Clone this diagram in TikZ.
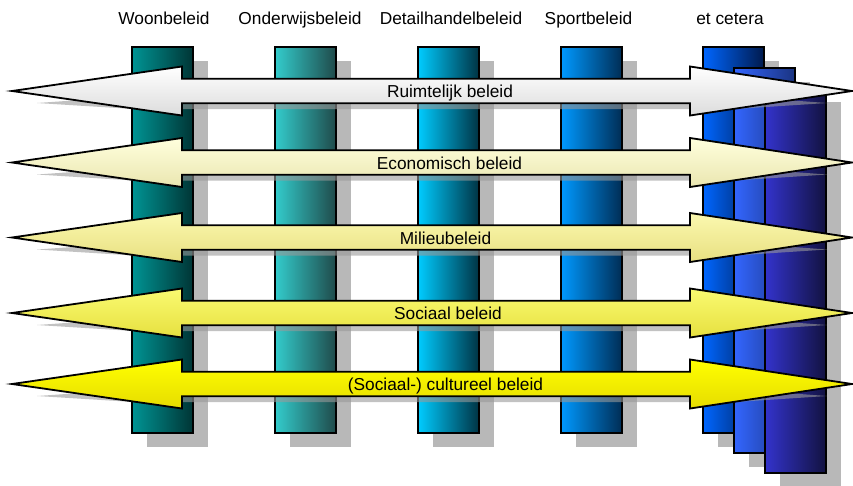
\documentclass[tikz,border=0pt]{standalone}
\usepackage{fontspec}
\setmainfont{Liberation Sans}
% column gradients (left / right)
\definecolor{c1l}{HTML}{009494}\definecolor{c1r}{HTML}{003535}
\definecolor{c2l}{HTML}{33CCCC}\definecolor{c2r}{HTML}{1F4A4A}
\definecolor{c3l}{HTML}{00CCFF}\definecolor{c3r}{HTML}{003344}
\definecolor{c4l}{HTML}{0099FF}\definecolor{c4r}{HTML}{002D55}
\definecolor{s1l}{HTML}{0066FF}\definecolor{s1r}{HTML}{001A4D}
\definecolor{s2l}{HTML}{3366FF}\definecolor{s2r}{HTML}{1A3380}
\definecolor{s3l}{HTML}{3333CC}\definecolor{s3r}{HTML}{121240}
% arrow gradients (top / bottom)
\definecolor{a1t}{HTML}{FFFFFF}\definecolor{a1b}{HTML}{DCDCDC}
\definecolor{a2t}{HTML}{FFFFDD}\definecolor{a2b}{HTML}{EAE6B0}
\definecolor{a3t}{HTML}{FBF8B0}\definecolor{a3b}{HTML}{E8E080}
\definecolor{a4t}{HTML}{FAFA70}\definecolor{a4b}{HTML}{E6E040}
\definecolor{a5t}{HTML}{FFFF00}\definecolor{a5b}{HTML}{E6DC00}
\begin{document}
\begin{tikzpicture}[x=1pt,y=-1pt,
  colbox/.style={draw=black, line width=1.6pt},
  colshadow/.style={fill=black!28},
  arrbody/.style={draw=black, line width=1.8pt, line join=miter},
  arrshadow/.style={fill=black!40, fill opacity=0.6},
  toplab/.style={anchor=base, inner sep=0pt, font=\fontsize{17.3}{20}\selectfont},
  arrlab/.style={anchor=base, inner sep=0pt, font=\fontsize{17.3}{20}\selectfont}]
\useasboundingbox (0,0) rectangle (853,485);

% policy columns with their drop shadows
\foreach \x/\yt/\yb/\lc/\rc in {132/47/433/c1l/c1r, 275/47/433/c2l/c2r,
    418/47/433/c3l/c3r, 561/47/433/c4l/c4r, 703/47/433/s1l/s1r,
    734/68/453/s2l/s2r, 765/88/473/s3l/s3r}{
  \fill[colshadow] (\x+15,\yt+14) rectangle (\x+76,\yb+14);
  \path[colbox, left color=\lc, right color=\rc] (\x,\yt) rectangle (\x+61,\yb);
}

% headings above the columns
\node[toplab] (hwoon)  at (164,24) {Woonbeleid};
\node[toplab] (honder) at (300,24) {Onderwijsbeleid};
\node[toplab] (hdetl)  at (451,24) {Detailhandelbeleid};
\node[toplab] (hsport) at (588.5,24) {Sportbeleid};
\node[toplab] (hetc)   at (730,24) {et cetera};

% flattened shadows of the cross-cutting arrows
\foreach \c in {91,162.5,237.5,313,384}{
  \fill[arrshadow] (37,\c+12) -- (182,\c+2) -- (690,\c+2) -- (827,\c+12)
    -- (690,\c+21) -- (690,\c+18) -- (182,\c+18) -- (182,\c+21) -- cycle;
}

% double-headed arrows for the cross-cutting policies
\foreach \c/\tc/\bc/\lx/\txt [count=\i] in {
    91/a1t/a1b/450/{Ruimtelijk beleid},
    162.5/a2t/a2b/449.5/{Economisch beleid},
    237.5/a3t/a3b/445.5/{Milieubeleid},
    313/a4t/a4b/448/{Sociaal beleid},
    384/a5t/a5b/445.5/{(Sociaal-) cultureel beleid}}{
  \path[arrbody, top color=\tc, bottom color=\bc]
    (12,\c) -- (182,\c-24.5) -- (182,\c-12.3) -- (690,\c-12.3) -- (690,\c-24.5)
    -- (852,\c) -- (690,\c+24.5) -- (690,\c+12.3) -- (182,\c+12.3)
    -- (182,\c+24.5) -- cycle;
  \node[arrlab] (lbl\i) at (\lx,\c+6.5) {\txt};
}
\end{tikzpicture}
\end{document}
